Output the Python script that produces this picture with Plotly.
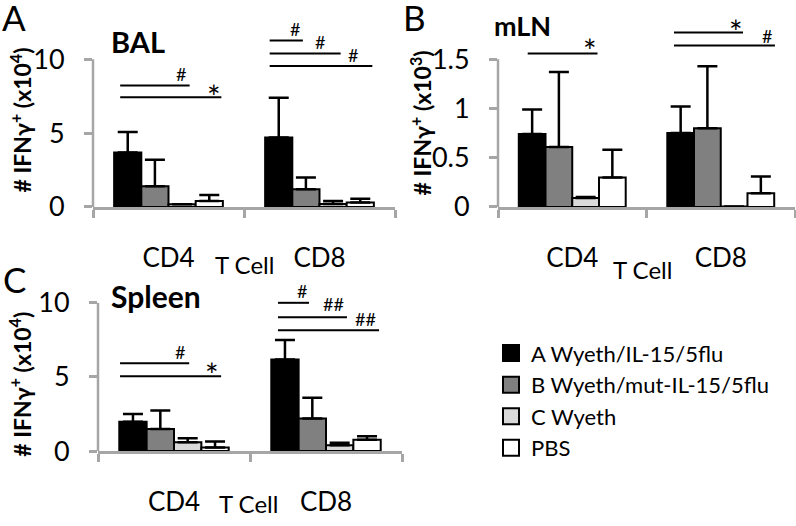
import plotly.graph_objects as go

W, H = 796, 526

categories = ["CD4", "CD8"]
groups = ["A Wyeth/IL-15/5flu", "B Wyeth/mut-IL-15/5flu", "C Wyeth", "PBS"]
colors = ["#000000", "#808080", "#d9d9d9", "#ffffff"]

# BAL (x10^4)
bal_A = [3.68, 4.70]
bal_A_err = [1.40, 2.70]
bal_B = [1.40, 1.20]
bal_B_err = [1.80, 0.80]
bal_C = [0.18, 0.20]
bal_C_err = [0.00, 0.20]
bal_PBS = [0.40, 0.30]
bal_PBS_err = [0.40, 0.25]

# mLN (x10^3)
mln_A = [0.74, 0.75]
mln_A_err = [0.25, 0.27]
mln_B = [0.61, 0.80]
mln_B_err = [0.76, 0.63]
mln_C = [0.09, 0.005]
mln_C_err = [0.01, 0.0]
mln_PBS = [0.30, 0.14]
mln_PBS_err = [0.28, 0.17]

# Spleen (x10^4)
spl_A = [1.98, 6.18]
spl_A_err = [0.52, 1.31]
spl_B = [1.48, 2.20]
spl_B_err = [1.25, 1.40]
spl_C = [0.60, 0.39]
spl_C_err = [0.27, 0.17]
spl_PBS = [0.24, 0.76]
spl_PBS_err = [0.41, 0.24]

# significance brackets: (x_start, x_end, y) in category/data units
bal_lines = [(-0.32, 0.14, 8.22), (-0.32, 0.35, 7.43),
             (0.67, 0.89, 11.27), (0.67, 1.14, 10.39), (0.67, 1.35, 9.54)]
bal_marks = [(0.08, 9.0, "#"), (0.30, 7.45, "*"),
             (0.84, 12.04, "#"), (1.00, 11.18, "#"), (1.22, 10.26, "#")]
mln_lines = [(-0.30, 0.17, 1.559), (0.685, 1.15, 1.773), (0.685, 1.365, 1.641)]
mln_marks = [(0.12, 1.59, "*"), (1.10, 1.787, "*"), (1.31, 1.737, "#")]
spl_lines = [(-0.355, 0.10, 5.92), (-0.355, 0.31, 5.05),
             (0.684, 0.888, 10.0), (0.684, 1.138, 9.02), (0.684, 1.349, 8.15)]
spl_marks = [(0.04, 6.66, "#"), (0.25, 5.15, "*"),
             (0.84, 10.83, "#"), (1.05, 9.91, "##"), (1.26, 8.93, "##")]

panels = [
    dict(name="BAL", vals=[bal_A, bal_B, bal_C, bal_PBS],
         errs=[bal_A_err, bal_B_err, bal_C_err, bal_PBS_err],
         lines=bal_lines, marks=bal_marks, ticks=[0, 5, 10], ticktext=["0", "5", "10"],
         top=10, x0px=93, x1px=395, zero_px=213, top_px=61, dom_top_px=6, ax=""),
    dict(name="mLN", vals=[mln_A, mln_B, mln_C, mln_PBS],
         errs=[mln_A_err, mln_B_err, mln_C_err, mln_PBS_err],
         lines=mln_lines, marks=mln_marks, ticks=[0, 0.5, 1, 1.5], ticktext=["0", "0.5", "1", "1.5"],
         top=1.5, x0px=498, x1px=795, zero_px=213, top_px=61, dom_top_px=6, ax="2"),
    dict(name="Spleen", vals=[spl_A, spl_B, spl_C, spl_PBS],
         errs=[spl_A_err, spl_B_err, spl_C_err, spl_PBS_err],
         lines=spl_lines, marks=spl_marks, ticks=[0, 5, 10], ticktext=["0", "5", "10"],
         top=10, x0px=98, x1px=402, zero_px=464.3, top_px=311.7, dom_top_px=280, ax="3"),
]

FONT = "Lato"
AXC = "#a6a6a6"

fig = go.Figure()
shapes = []
annotations = []

def px(x, y):
    return x / W, 1 - y / H

for p in panels:
    xa = "x" + p["ax"]
    ya = "y" + p["ax"]
    for g, name in enumerate(groups):
        fig.add_trace(go.Bar(
            x=categories, y=p["vals"][g], name=name, showlegend=False,
            xaxis=xa, yaxis=ya,
            marker=dict(color=colors[g], line=dict(color="black", width=2)),
            error_y=dict(type="data", array=p["errs"][g], arrayminus=[0, 0],
                         symmetric=False, color="black", thickness=2.5, width=10),
        ))
    ppu = (p["zero_px"] - p["top_px"]) / p["top"]
    rmax = (p["zero_px"] - p["dom_top_px"]) / ppu
    xk = "xaxis" + p["ax"]
    yk = "yaxis" + p["ax"]
    fig.update_layout(**{
        xk: dict(domain=[p["x0px"] / W, p["x1px"] / W], range=[-0.5, 1.5],
                 anchor=ya, showline=True, linecolor=AXC, linewidth=2.5,
                 ticks="outside", tickson="boundaries", ticklen=8, tickwidth=2.5,
                 tickcolor=AXC, showgrid=False, zeroline=False,
                 tickfont=dict(size=26, family=FONT, color="black"),
                 ticklabelstandoff=26, fixedrange=True),
        yk: dict(domain=[1 - p["zero_px"] / H, 1 - p["dom_top_px"] / H], range=[0, rmax],
                 anchor=xa, showline=False, ticks="outside", ticklen=8, tickwidth=2.5,
                 tickcolor=AXC, tickvals=p["ticks"], ticktext=p["ticktext"],
                 showgrid=False, zeroline=False,
                 tickfont=dict(size=27, family=FONT, color="black"),
                 ticklabelstandoff=14, fixedrange=True),
    })
    shapes.append(dict(type="line", xref=xa + " domain", yref=ya, x0=0, x1=0,
                       y0=0, y1=p["top"], line=dict(color=AXC, width=2.5)))
    for (a, b, yy) in p["lines"]:
        shapes.append(dict(type="line", xref=xa, yref=ya, x0=a, x1=b, y0=yy, y1=yy,
                           line=dict(color="black", width=2)))
    for (xx, yy, t) in p["marks"]:
        annotations.append(dict(xref=xa, yref=ya, x=xx, y=yy, text=t, showarrow=False,
                                font=dict(size=32 if t == "*" else 18, family=FONT, color="black"),
                                xanchor="center", yanchor="middle"))

# legend entries
for g, name in enumerate(groups):
    fig.add_trace(go.Scatter(
        x=[None], y=[None], mode="markers", name=name, legendgroup=name,
        marker=dict(symbol="square", size=16, color=colors[g],
                    line=dict(color="black", width=2)),
        xaxis="x3", yaxis="y3", showlegend=True,
    ))

def ann(xp, yp, text, size, angle=0):
    x, y = px(xp, yp)
    annotations.append(dict(xref="paper", yref="paper", x=x, y=y, text=text,
                            showarrow=False, textangle=angle,
                            font=dict(size=size, family=FONT, color="black"),
                            xanchor="center", yanchor="middle"))

ylab4 = "<b># IFNγ<sup>+</sup> (x10<sup>4</sup>)</b>"
ylab3 = "<b># IFNγ<sup>+</sup> (x10<sup>3</sup>)</b>"
ann(21, 124, ylab4, 23, -90)
ann(421, 127, ylab3, 23, -90)
ann(21, 396, ylab4, 23, -90)

ann(138, 43, "<b>BAL</b>", 29)
ann(522, 26, "<b>mLN</b>", 27)
ann(156, 305, "<b>Spleen</b>", 30)

ann(14, 18, "A", 35)
ann(414, 18, "B", 35)
ann(14, 287, "C", 35)

ann(245, 272, "T Cell", 24)
ann(642, 277, "T Cell", 24)
ann(248, 518, "T Cell", 24)

lx, ly = px(491, 342)
fig.update_layout(
    width=W, height=H,
    margin=dict(l=0, r=0, t=0, b=0),
    paper_bgcolor="white", plot_bgcolor="white",
    font=dict(family=FONT, color="black"),
    barmode="group", bargap=0.28, bargroupgap=0,
    shapes=shapes, annotations=annotations,
    showlegend=True,
    legend=dict(x=lx, y=ly, xanchor="left", yanchor="top",
                font=dict(size=22, family=FONT, color="black"),
                tracegroupgap=0, itemwidth=30, bgcolor="rgba(0,0,0,0)"),
)

fig.write_html("out.html", config={"displayModeBar": False},
               post_script="document.body.style.margin='0';document.body.style.overflow='hidden';")
